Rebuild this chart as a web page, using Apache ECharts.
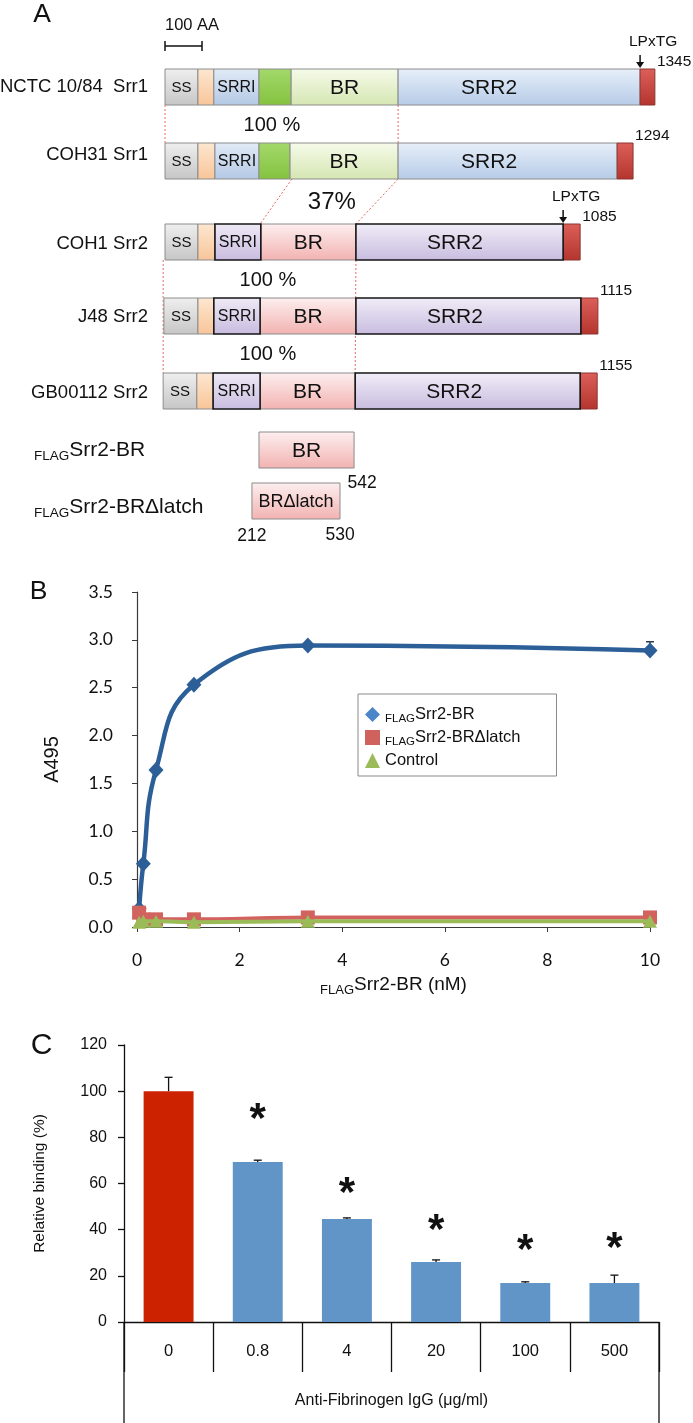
<!DOCTYPE html>
<html>
<head>
<meta charset="utf-8">
<script src="https://cdn.jsdelivr.net/npm/echarts@6/dist/echarts.min.js"></script>
<style>
html,body{margin:0;padding:0;background:#fff;}
#chart{width:693px;height:1423px;}
</style>
</head>
<body>
<div id="chart"></div>
<script>
// ================= DATA =================
// ---- Panel A: domain organisation (positions on the schematic's amino-acid scale) ----
const proteinNames   = ['NCTC 10/84  Srr1', 'COH31 Srr1', 'COH1 Srr2', 'J48 Srr2', 'GB00112 Srr2'];
const proteinFamily  = ['Srr1', 'Srr1', 'Srr2', 'Srr2', 'Srr2'];
const proteinLengths = [1345, 1294, 1085, 1115, 1155];
const anchorMotif    = ['LPxTG', '', 'LPxTG', '', ''];
const srr1DomainLabels = ['SS', '', 'SRRI', '', 'BR', 'SRR2', ''];
const srr2DomainLabels = ['SS', '', 'SRRI', 'BR', 'SRR2', ''];
const nctcBounds  = [0, 89, 132, 254, 341, 630, 1284, 1324];
const coh31Bounds = [0, 89, 135, 254, 338, 630, 1222, 1265];
const coh1Bounds  = [0, 89, 135, 259, 516, 1076, 1122];
const j48Bounds   = [-3, 89, 132, 257, 516, 1124, 1170];
const gbBounds    = [-5, 86, 130, 257, 514, 1122, 1168];
const identities  = ['100 %', '37%', '100 %', '100 %'];
// homologous boundaries: [aaFrom, rowFrom, aaTo, rowTo]
const homologyLinks = [[0, 0, 0, 1], [630, 0, 630, 1], [343, 1, 257, 2], [630, 1, 516, 2], [-5, 2, -5, 4], [516, 2, 514, 4]];
const constructNames    = ['Srr2-BR', 'Srr2-BRΔlatch'];
const constructLabels   = ['BR', 'BRΔlatch'];
const constructBounds   = [[254, 511], [235, 473]];
const constructResidues = [[null, 542], [212, 530]];
const scaleBarAA = 100;

// ---- Panel B: binding curves ----
const concNM      = [0.041, 0.123, 0.37, 1.11, 3.33, 10];
const brA495      = [0.19, 0.66, 1.64, 2.53, 2.94, 2.89];
const brSD        = [0, 0, 0, 0, 0, 0.09];
const latchA495   = [0.15, 0.08, 0.08, 0.08, 0.10, 0.10];
const controlA495 = [0.05, 0.06, 0.06, 0.05, 0.06, 0.06];
const seriesBNames = ['Srr2-BR', 'Srr2-BRΔlatch', 'Control'];
const seriesBFlag  = [true, true, false];

// ---- Panel C: inhibition ----
const iggConc     = ['0', '0.8', '4', '20', '100', '500'];
const binding     = [100, 69.3, 44.6, 26, 16.9, 16.9];
const bindingErr  = [6, 0.8, 0.5, 0.9, 0.5, 3.4];
const significant = [false, true, true, true, true, true];
const starLevel   = [null, 91, 59, 43, 34, 35];

// ================= LAYOUT / STYLE =================
const FA = '"Liberation Sans", Arial, sans-serif';
const FB = 'Lato, "Liberation Sans", sans-serif';
const INK = '#111111';
const ROW_TOP = [69, 143, 224, 298, 373, 432, 483];
const ROW_H = 36;
const LABEL_DY = [0, -6, 2, 1, 2, 0, 6];
const ID_X_AA = [289, 451, 278, 278];
const ID_FS = [20, 24, 20, 20];
const SRR2_LABEL_FROM_START = {Srr1: 91, Srr2: 99};

const GREY = '#8c8c8c', DARK = '#151515';
const ST = {
  ss:     {fill: ['#efefef', '#c6c6c6'], stroke: GREY, fs: 15},
  spacer: {fill: ['#fde7d1', '#f8c598'], stroke: GREY},
  srri1:  {fill: ['#e2ebf7', '#b3c8e4'], stroke: GREY, fs: 16},
  latch:  {fill: ['#a3d96b', '#84c23f'], stroke: GREY},
  br1:    {fill: ['#f6fbea', '#d5e6b2'], stroke: GREY, fs: 21},
  srr2a:  {fill: ['#e7eff9', '#b6cbe7'], stroke: GREY, fs: 21, fromStart: SRR2_LABEL_FROM_START.Srr1},
  anchor: {fill: ['#dd5f59', '#b3352e'], stroke: '#8a3530'},
  srri2:  {fill: ['#efeaf6', '#c8bcdf'], stroke: DARK, lw: 1.6, fs: 16, z: 5},
  br2:    {fill: ['#fdefef', '#f2b2b1'], stroke: GREY, fs: 21},
  srr2b:  {fill: ['#f1edf8', '#c8bcdf'], stroke: DARK, lw: 1.6, fs: 21, z: 5, fromStart: SRR2_LABEL_FROM_START.Srr2},
  br:     {fill: ['#fdefef', '#f2b2b1'], stroke: GREY, fs: 21},
  brl:    {fill: ['#fdefef', '#f2b2b1'], stroke: GREY, fs: 18}
};
const FAMILY_STYLE = {
  Srr1: ['ss', 'spacer', 'srri1', 'latch', 'br1', 'srr2a', 'anchor'],
  Srr2: ['ss', 'spacer', 'srri2', 'br2', 'srr2b', 'anchor']
};
const FAMILY_LABELS = {Srr1: srr1DomainLabels, Srr2: srr2DomainLabels};
const proteinBounds = [nctcBounds, coh31Bounds, coh1Bounds, j48Bounds, gbBounds];

const SEGS = [];
proteinBounds.forEach((b, r) => {
  const fam = proteinFamily[r];
  for (let i = 0; i < b.length - 1; i++) {
    SEGS.push({start: b[i], end: b[i + 1], row: r, style: ST[FAMILY_STYLE[fam][i]], label: FAMILY_LABELS[fam][i]});
  }
});
constructBounds.forEach((b, k) => {
  SEGS.push({start: b[0], end: b[1], row: 5 + k, style: k === 0 ? ST.br : ST.brl, label: constructLabels[k]});
});

const grad = (a, b) => new echarts.graphic.LinearGradient(0, 0, 0, 1, [{offset: 0, color: a}, {offset: 1, color: b}]);
function txt(text, x, y, align, fs, weight) {
  return {type: 'text', z2: 30, style: {text: text, x: x, y: y, align: align, textAlign: align,
    verticalAlign: 'middle', textVerticalAlign: 'middle', fontSize: fs, fontFamily: FA,
    fontWeight: weight || 'normal', fill: INK}};
}
const flagRich = (main, sub) => ({
  m: {fontSize: main, fontFamily: FA, color: INK, fill: INK, lineHeight: main + 5},
  s: {fontSize: sub, fontFamily: FA, color: INK, fill: INK, lineHeight: 10, verticalAlign: 'bottom'}
});

// ---- render functions (panel A) ----
function renderSeg(params, api) {
  const s = SEGS[params.dataIndex];
  const top = ROW_TOP[s.row];
  const p0 = api.coord([s.start, top]);
  const p1 = api.coord([s.end, top + ROW_H]);
  const st = s.style;
  const ch = [{
    type: 'rect', z2: st.z || 1,
    shape: {x: p0[0], y: p0[1], width: p1[0] - p0[0], height: p1[1] - p0[1]},
    style: {fill: grad(st.fill[0], st.fill[1]), stroke: st.stroke, lineWidth: st.lw || 1}
  }];
  if (s.label) {
    const lx = st.fromStart ? p0[0] + st.fromStart : (p0[0] + p1[0]) / 2;
    ch.push(txt(s.label, lx, (p0[1] + p1[1]) / 2 + 1, 'center', st.fs));
  }
  return {type: 'group', children: ch};
}

function renderLink(params, api) {
  const l = homologyLinks[params.dataIndex];
  const a = api.coord([l[0], ROW_TOP[l[1]] + ROW_H]);
  const b = api.coord([l[2], ROW_TOP[l[3]]]);
  return {type: 'line', z2: 0, shape: {x1: a[0], y1: a[1], x2: b[0], y2: b[1]},
    style: {stroke: '#e46a60', lineWidth: 1, lineDash: [2, 2]}};
}

function renderRow(params, api) {
  const r = params.dataIndex;
  const top = ROW_TOP[r], mid = top + ROW_H / 2, bot = top + ROW_H;
  const ch = [];
  if (r < 5) {
    const b = proteinBounds[r];
    const x0 = api.coord([0, top])[0];
    const xEnd = api.coord([b[b.length - 1], top])[0];
    ch.push(txt(proteinNames[r], x0 - 17, mid + LABEL_DY[r], 'right', 18.5));
    ch.push(txt(String(proteinLengths[r]), xEnd + 2, top - 7, 'left', 15.5));
    if (anchorMotif[r]) {
      const ax = api.coord([b[b.length - 2], top])[0];
      ch.push({type: 'line', z2: 30, shape: {x1: ax, y1: top - 14, x2: ax, y2: top - 6}, style: {stroke: INK, lineWidth: 1.5}});
      ch.push({type: 'polygon', z2: 30, shape: {points: [[ax - 4, top - 7], [ax + 4, top - 7], [ax, top - 1]]}, style: {fill: INK}});
      ch.push(txt(anchorMotif[r], ax + 13, top - 27, 'center', 15.5));
    }
  } else {
    const k = r - 5;
    ch.push({type: 'text', z2: 30, style: {
      text: '{s|FLAG}{m|' + constructNames[k] + '}', x: 34, y: mid + LABEL_DY[r],
      align: 'left', textAlign: 'left', verticalAlign: 'middle', textVerticalAlign: 'middle',
      rich: flagRich(21, 13.5), fill: INK}});
    const res = constructResidues[k];
    const xs = api.coord([constructBounds[k][0], top])[0];
    const xe = api.coord([constructBounds[k][1], top])[0];
    if (res[0] === null) {
      ch.push(txt(String(res[1]), xe + 8, bot + 15, 'center', 17.5));
    } else {
      ch.push(txt(String(res[0]), xs, bot + 17, 'center', 17.5));
      ch.push(txt(String(res[1]), xe, bot + 16, 'center', 17.5));
    }
  }
  return {type: 'group', children: ch};
}

function renderIdentity(params, api) {
  const i = params.dataIndex;
  const y = (ROW_TOP[i] + ROW_H + ROW_TOP[i + 1]) / 2 + 1;
  const x = api.coord([ID_X_AA[i], y])[0];
  return txt(identities[i], x, y, 'center', ID_FS[i]);
}

function renderScale(params, api) {
  const a = api.coord([0, 46]);
  const b = api.coord([scaleBarAA, 46]);
  const s = {stroke: INK, lineWidth: 1.5};
  return {type: 'group', children: [
    {type: 'line', shape: {x1: a[0], y1: a[1], x2: b[0], y2: b[1]}, style: s},
    {type: 'line', shape: {x1: a[0], y1: a[1] - 5, x2: a[0], y2: a[1] + 5}, style: s},
    {type: 'line', shape: {x1: b[0], y1: b[1] - 5, x2: b[0], y2: b[1] + 5}, style: s},
    txt(scaleBarAA + ' AA', a[0], 25, 'left', 16.5)
  ]};
}

// ---- Panel B helpers ----
const pts = (ys) => concNM.map((x, i) => [x, ys[i]]);
const legendRich = flagRich(16.5, 11.5);
legendRich.m.lineHeight = 20;

// ================= OPTION =================
const chart = echarts.init(document.getElementById('chart'));
const axisLineB = {show: true, lineStyle: {color: '#3a3a3a', width: 1.2}};
const option = {
  animation: false,
  backgroundColor: '#ffffff',
  textStyle: {fontFamily: FA},
  grid: [
    {left: 165, top: 0, width: 518, height: 560, outerBoundsMode: 'none', containLabel: false},
    {left: 137, top: 592, width: 513, height: 335, outerBoundsMode: 'none', containLabel: false},
    {left: 124, top: 1045, width: 535, height: 277, outerBoundsMode: 'none', containLabel: false}
  ],
  xAxis: [
    {gridIndex: 0, type: 'value', min: 0, max: 1400, show: false},
    {gridIndex: 1, type: 'value', min: 0, max: 10, interval: 2,
      axisLine: axisLineB, axisTick: {show: true, length: 5, lineStyle: {color: '#3a3a3a'}},
      splitLine: {show: false},
      axisLabel: {fontFamily: FB, fontSize: 17.5, color: INK, margin: 24},
      name: '{s|FLAG}{m|Srr2-BR (nM)}', nameLocation: 'middle', nameGap: 46,
      nameTextStyle: {rich: (function () { const r = flagRich(19, 13); r.m.lineHeight = 24; r.s.lineHeight = 11; return r; })()}
    },
    {gridIndex: 2, type: 'category', data: iggConc,
      axisLine: {show: true, lineStyle: {color: INK, width: 1.3}},
      axisTick: {show: true, length: 50, lineStyle: {color: INK, width: 1.3}},
      axisLabel: {fontFamily: FA, fontSize: 16.5, color: INK, margin: 21},
      name: 'Anti-Fibrinogen IgG (μg/ml)', nameLocation: 'middle', nameGap: 71,
      nameTextStyle: {fontFamily: FA, fontSize: 16, color: INK}
    }
  ],
  yAxis: [
    {gridIndex: 0, type: 'value', min: 0, max: 560, inverse: true, show: false},
    {gridIndex: 1, type: 'value', min: 0, max: 3.5, interval: 0.5,
      axisLine: axisLineB, axisTick: {show: true, length: 5, lineStyle: {color: '#3a3a3a'}},
      splitLine: {show: false},
      axisLabel: {fontFamily: FB, fontSize: 17.5, color: INK, margin: 24, formatter: v => v.toFixed(1)},
      name: 'A495', nameLocation: 'middle', nameGap: 75,
      nameTextStyle: {fontFamily: FA, fontSize: 20, color: INK}
    },
    {gridIndex: 2, type: 'value', min: 0, max: 120, interval: 20,
      axisLine: {show: true, lineStyle: {color: INK, width: 1.3}},
      axisTick: {show: true, length: 6, lineStyle: {color: INK, width: 1.3}},
      splitLine: {show: false},
      axisLabel: {fontFamily: FA, fontSize: 16, color: INK, margin: 17},
      name: 'Relative binding (%)', nameLocation: 'middle', nameGap: 76,
      nameTextStyle: {fontFamily: FA, fontSize: 15.5, color: INK}
    }
  ],
  legend: {
    orient: 'vertical', left: 358, top: 694, padding: [12, 36, 7, 7], itemGap: 4.5,
    itemWidth: 15, itemHeight: 15,
    backgroundColor: '#ffffff', borderColor: '#8a8a8a', borderWidth: 1, borderRadius: 0,
    data: [
      {name: seriesBNames[0], icon: 'diamond', itemStyle: {color: '#4a86c8'}},
      {name: seriesBNames[1], icon: 'rect', itemStyle: {color: '#d0625e'}},
      {name: seriesBNames[2], icon: 'triangle', itemStyle: {color: '#9bbb59'}}
    ],
    formatter: function (name) {
      const i = seriesBNames.indexOf(name);
      return (seriesBFlag[i] ? '{s|FLAG}' : '') + '{m|' + name + '}';
    },
    textStyle: {color: INK, rich: legendRich}
  },
  graphic: [
    {type: 'text', x: 42, y: 15, style: {text: 'A', font: '26.5px ' + FA, fill: INK, align: 'center', textAlign: 'center', verticalAlign: 'middle', textVerticalAlign: 'middle'}},
    {type: 'text', x: 38.5, y: 592, style: {text: 'B', font: '26.5px ' + FA, fill: INK, align: 'center', textAlign: 'center', verticalAlign: 'middle', textVerticalAlign: 'middle'}},
    {type: 'text', x: 41.5, y: 1046, style: {text: 'C', font: '30px ' + FA, fill: INK, align: 'center', textAlign: 'center', verticalAlign: 'middle', textVerticalAlign: 'middle'}}
  ],
  series: [
    // ----- Panel A -----
    {type: 'custom', name: 'links', xAxisIndex: 0, yAxisIndex: 0, z: 1, clip: false,
      data: homologyLinks.map(l => [l[0], l[2]]), renderItem: renderLink, silent: true},
    {type: 'custom', name: 'domains', xAxisIndex: 0, yAxisIndex: 0, z: 2, clip: false,
      data: SEGS.map(s => [s.start, s.end]), renderItem: renderSeg, silent: true},
    {type: 'custom', name: 'rows', xAxisIndex: 0, yAxisIndex: 0, z: 3, clip: false,
      data: ROW_TOP.map((t, i) => [i, t]), renderItem: renderRow, silent: true},
    {type: 'custom', name: 'identity', xAxisIndex: 0, yAxisIndex: 0, z: 3, clip: false,
      data: identities.map((t, i) => [i, i]), renderItem: renderIdentity, silent: true},
    {type: 'custom', name: 'scale', xAxisIndex: 0, yAxisIndex: 0, z: 3, clip: false,
      data: [[0, scaleBarAA]], renderItem: renderScale, silent: true},
    // ----- Panel B -----
    {type: 'line', name: seriesBNames[0], xAxisIndex: 1, yAxisIndex: 1, data: pts(brA495),
      smooth: 0.45, symbol: 'diamond', symbolSize: [15, 16], showSymbol: true,
      lineStyle: {color: '#2c5f98', width: 4.5}, itemStyle: {color: '#2c5f98'}, z: 3},
    {type: 'line', name: seriesBNames[1], xAxisIndex: 1, yAxisIndex: 1, data: pts(latchA495),
      smooth: 0.3, symbol: 'rect', symbolSize: 14,
      lineStyle: {color: '#d2625e', width: 4}, itemStyle: {color: '#d2625e'}, z: 4},
    {type: 'line', name: seriesBNames[2], xAxisIndex: 1, yAxisIndex: 1, data: pts(controlA495),
      smooth: 0.3, symbol: 'triangle', symbolSize: [14, 13],
      lineStyle: {color: '#9bbb59', width: 4}, itemStyle: {color: '#9bbb59'}, z: 5},
    {type: 'custom', name: 'brErr', xAxisIndex: 1, yAxisIndex: 1, z: 2, silent: true,
      data: concNM.map((x, i) => [x, brA495[i], brA495[i] + brSD[i]]).filter((d, i) => brSD[i] > 0),
      renderItem: function (params, api) {
        const p0 = api.coord([api.value(0), api.value(1)]);
        const p1 = api.coord([api.value(0), api.value(2)]);
        const s = {stroke: '#2c3e50', lineWidth: 1.5};
        return {type: 'group', children: [
          {type: 'line', shape: {x1: p0[0], y1: p0[1], x2: p1[0], y2: p1[1]}, style: s},
          {type: 'line', shape: {x1: p1[0] - 4, y1: p1[1], x2: p1[0] + 4, y2: p1[1]}, style: s}]};
      }},
    // ----- Panel C -----
    {type: 'bar', name: 'binding', xAxisIndex: 2, yAxisIndex: 2, barWidth: '56%',
      data: binding.map((v, i) => ({value: v, itemStyle: {color: i === 0 ? '#cc2200' : '#6195c8'}})), z: 2},
    {type: 'custom', name: 'bindingErr', xAxisIndex: 2, yAxisIndex: 2, z: 3, silent: true,
      data: binding.map((v, i) => [i, v, v + bindingErr[i]]),
      renderItem: function (params, api) {
        const p0 = api.coord([api.value(0), api.value(1)]);
        const p1 = api.coord([api.value(0), api.value(2)]);
        const s = {stroke: INK, lineWidth: 1.3};
        return {type: 'group', children: [
          {type: 'line', shape: {x1: p0[0], y1: p0[1], x2: p1[0], y2: p1[1]}, style: s},
          {type: 'line', shape: {x1: p1[0] - 4, y1: p1[1], x2: p1[0] + 4, y2: p1[1]}, style: s}]};
      }},
    {type: 'custom', name: 'stars', xAxisIndex: 2, yAxisIndex: 2, z: 3, silent: true,
      data: starLevel.map((v, i) => [i, v]).filter((d, i) => significant[i]),
      renderItem: function (params, api) {
        const p = api.coord([api.value(0), api.value(1)]);
        const fs = 42;
        return txt('*', p[0], p[1] + 0.2 * fs, 'center', fs, 'bold');
      }},
    {type: 'custom', name: 'frame', xAxisIndex: 2, yAxisIndex: 2, z: 3, silent: true, clip: false,
      data: [[0, 0]],
      renderItem: function (params, api) {
        const c0 = api.coord([0, 0]);
        const band = api.size([1, 0])[0];
        const xl = c0[0] - band / 2, xr = xl + band * iggConc.length;
        const s = {stroke: INK, lineWidth: 1.3};
        return {type: 'group', children: [
          {type: 'line', shape: {x1: xl, y1: c0[1], x2: xl, y2: c0[1] + 101}, style: s},
          {type: 'line', shape: {x1: xr, y1: c0[1], x2: xr, y2: c0[1] + 101}, style: s}]};
      }}
  ]
};
chart.setOption(option);
</script>
</body>
</html>
